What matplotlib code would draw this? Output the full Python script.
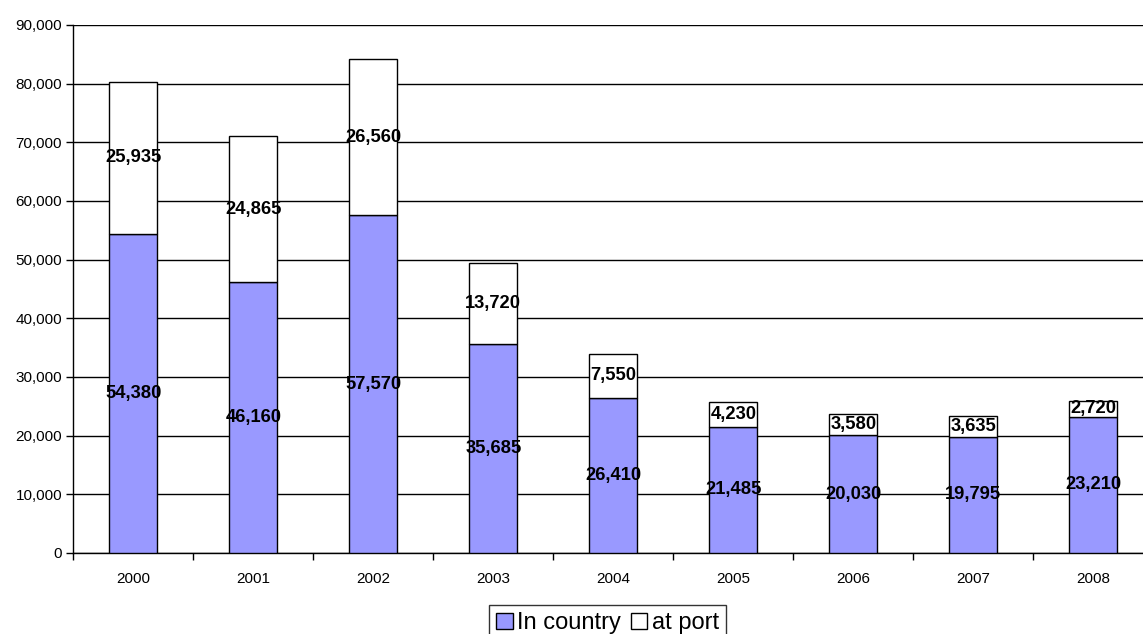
import matplotlib.pyplot as plt
from matplotlib.ticker import FuncFormatter
import numpy as np

plt.rcParams['font.family'] = ['Liberation Sans', 'DejaVu Sans']

years = ['2000', '2001', '2002', '2003', '2004', '2005', '2006', '2007', '2008']
in_country = [54380, 46160, 57570, 35685, 26410, 21485, 20030, 19795, 23210]
at_port = [25935, 24865, 26560, 13720, 7550, 4230, 3580, 3635, 2720]

W, H = 1143, 634
fig = plt.figure(figsize=(W / 100, H / 100), dpi=100)
# plot area runs a little past the right edge of the image, like the original
left, right, top, bottom = 73.3, 1153.3, 25, 553
ax = fig.add_axes([left / W, 1 - bottom / H, (right - left) / W, (bottom - top) / H])

x = np.arange(len(years))
b1 = ax.bar(x, in_country, width=0.4, color='#9999FF', edgecolor='black', linewidth=1,
            label='In country', zorder=3)
b2 = ax.bar(x, at_port, width=0.4, bottom=in_country, color='white', edgecolor='black',
            linewidth=1, label='at port', zorder=3)

for i in range(len(years)):
    ax.text(x[i], in_country[i] / 2, f'{in_country[i]:,}', ha='center', va='center',
            fontsize=13.2, fontweight='bold', zorder=4)
    ax.text(x[i], in_country[i] + at_port[i] / 2, f'{at_port[i]:,}', ha='center',
            va='center', fontsize=13.2, fontweight='bold', zorder=4)

ax.set_xlim(-0.5, len(years) - 0.5)
ax.set_ylim(0, 90000)
ax.set_yticks(np.arange(0, 90001, 10000))
ax.yaxis.set_major_formatter(FuncFormatter(lambda v, p: f'{int(v):,}'))
ax.set_xticks(x)
ax.set_xticklabels(years)
ax.set_xticks(np.arange(-0.5, len(years), 1), minor=True)
ax.tick_params(axis='x', which='major', length=0, pad=14, labelsize=11)
ax.tick_params(axis='x', which='minor', length=5, width=1, color='black')
ax.tick_params(axis='y', length=5, width=1, labelsize=11, pad=3)

ax.grid(axis='y', color='black', linewidth=1, zorder=0)
ax.set_axisbelow(True)
ax.spines['top'].set_visible(False)
ax.spines['right'].set_visible(False)
for s in ('left', 'bottom'):
    ax.spines[s].set_linewidth(1)

leg = fig.legend(handles=[b1, b2], loc='upper center', bbox_to_anchor=(607.5 / W, 1 - 605 / H),
                 ncol=2, frameon=True, fancybox=False, edgecolor='black', fontsize=17,
                 handlelength=0.7, handleheight=0.7, handletextpad=0.2, columnspacing=0.4,
                 borderpad=0.3, borderaxespad=0)
leg.get_frame().set_linewidth(1)

fig.savefig('out.png', dpi=100)
